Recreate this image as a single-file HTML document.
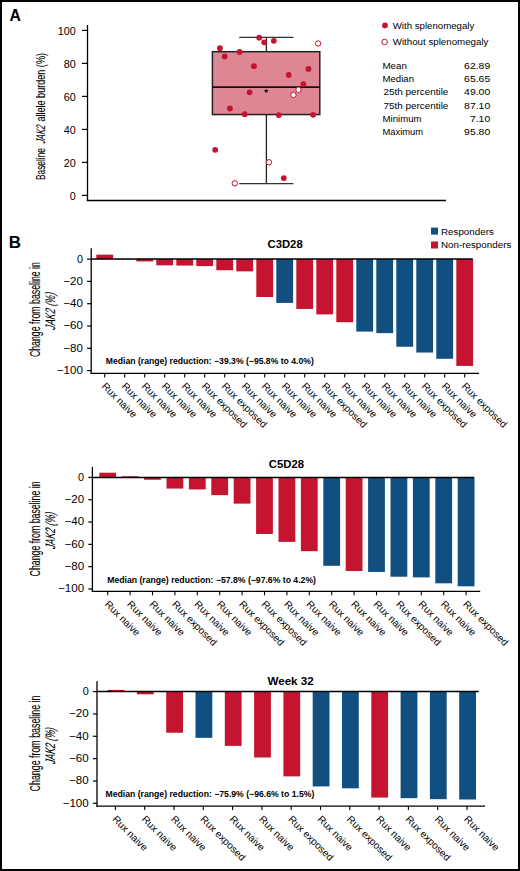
<!DOCTYPE html>
<html><head><meta charset="utf-8"><style>html,body{margin:0;padding:0;background:#fff;width:520px;height:871px;overflow:hidden}</style></head>
<body>
<svg width="520" height="871" viewBox="0 0 520 871" style="display:block;font-family:'Liberation Sans', sans-serif">
<rect x="0" y="0" width="520" height="871" fill="#fff"/>
<rect x="1" y="1" width="518" height="869" fill="none" stroke="#000" stroke-width="2"/>
<text x="9.40" y="20.80" font-size="15.8" font-weight="bold">A</text>
<text x="8.80" y="248.10" font-size="15.8" font-weight="bold" textLength="12.2" lengthAdjust="spacingAndGlyphs">B</text>
<line x1="87.5" y1="25" x2="87.5" y2="201.1" stroke="#000" stroke-width="1.3"/>
<line x1="86.85" y1="200.4" x2="446" y2="200.4" stroke="#000" stroke-width="1.5"/>
<line x1="82" y1="195.40" x2="87.5" y2="195.40" stroke="#000" stroke-width="1.2"/>
<text x="75.80" y="200.10" font-size="10.8" text-anchor="end">0</text>
<line x1="82" y1="162.40" x2="87.5" y2="162.40" stroke="#000" stroke-width="1.2"/>
<text x="75.80" y="167.10" font-size="10.8" text-anchor="end">20</text>
<line x1="82" y1="129.40" x2="87.5" y2="129.40" stroke="#000" stroke-width="1.2"/>
<text x="75.80" y="134.10" font-size="10.8" text-anchor="end">40</text>
<line x1="82" y1="96.40" x2="87.5" y2="96.40" stroke="#000" stroke-width="1.2"/>
<text x="75.80" y="101.10" font-size="10.8" text-anchor="end">60</text>
<line x1="82" y1="63.40" x2="87.5" y2="63.40" stroke="#000" stroke-width="1.2"/>
<text x="75.80" y="68.10" font-size="10.8" text-anchor="end">80</text>
<line x1="82" y1="30.40" x2="87.5" y2="30.40" stroke="#000" stroke-width="1.2"/>
<text x="75.80" y="35.10" font-size="10.8" text-anchor="end">100</text>
<g transform="translate(45.30,179.90) rotate(-90) scale(0.6632,1)" stroke="#000" stroke-width="0.1">
<text x="0.00" y="0" font-size="12.5" style="white-space:pre">Baseline</text>
</g>
<g transform="translate(45.30,144.00) rotate(-90) scale(0.6125,1)" stroke="#000" stroke-width="0.1">
<text transform="translate(0.00,0) skewX(-22)" x="0" y="0" font-size="12.5" style="white-space:pre">JAK2</text>
</g>
<g transform="translate(45.30,121.60) rotate(-90) scale(0.7270,1)" stroke="#000" stroke-width="0.1">
<text x="0.00" y="0" font-size="12.5" style="white-space:pre">allele burden (%)</text>
</g>
<rect x="212.4" y="51.69" width="107.4" height="62.86" fill="#DE8794" stroke="#222" stroke-width="1.5"/>
<line x1="212.4" y1="87.08" x2="319.8" y2="87.08" stroke="#111" stroke-width="1.6"/>
<line x1="266.4" y1="37.33" x2="266.4" y2="51.69" stroke="#222" stroke-width="1.3"/>
<line x1="266.4" y1="114.55" x2="266.4" y2="183.69" stroke="#222" stroke-width="1.3"/>
<line x1="239.2" y1="37.33" x2="293.5" y2="37.33" stroke="#333" stroke-width="1.3"/>
<line x1="239.2" y1="183.69" x2="293.5" y2="183.69" stroke="#333" stroke-width="1.3"/>
<polygon points="266.20,88.40 266.82,90.05 268.58,90.13 267.20,91.22 267.67,92.92 266.20,91.95 264.73,92.92 265.20,91.22 263.82,90.13 265.58,90.05" fill="#000"/>
<circle cx="219.9" cy="48.2" r="2.9" fill="#C4142F"/>
<circle cx="224.7" cy="56.5" r="2.9" fill="#C4142F"/>
<circle cx="239.6" cy="52" r="2.9" fill="#C4142F"/>
<circle cx="259.2" cy="37.7" r="2.9" fill="#C4142F"/>
<circle cx="264.2" cy="42.3" r="2.9" fill="#C4142F"/>
<circle cx="273.8" cy="40.8" r="2.9" fill="#C4142F"/>
<circle cx="253.9" cy="66.2" r="2.9" fill="#C4142F"/>
<circle cx="249.6" cy="92.3" r="2.9" fill="#C4142F"/>
<circle cx="229.9" cy="108.5" r="2.9" fill="#C4142F"/>
<circle cx="244.7" cy="114.2" r="2.9" fill="#C4142F"/>
<circle cx="278.8" cy="115.1" r="2.9" fill="#C4142F"/>
<circle cx="308.5" cy="68.9" r="2.9" fill="#C4142F"/>
<circle cx="288.7" cy="75" r="2.9" fill="#C4142F"/>
<circle cx="303.4" cy="84.2" r="2.9" fill="#C4142F"/>
<circle cx="313.1" cy="114.8" r="2.9" fill="#C4142F"/>
<circle cx="215.2" cy="149.8" r="2.9" fill="#C4142F"/>
<circle cx="283.8" cy="178.1" r="2.9" fill="#C4142F"/>
<circle cx="318.1" cy="43.5" r="2.7" fill="#fff" stroke="#C4142F" stroke-width="1"/>
<circle cx="298.5" cy="89.8" r="2.7" fill="#fff" stroke="#C4142F" stroke-width="1"/>
<circle cx="293.5" cy="95" r="2.7" fill="#fff" stroke="#C4142F" stroke-width="1"/>
<circle cx="269" cy="162.3" r="2.7" fill="#fff" stroke="#C4142F" stroke-width="1"/>
<circle cx="234.8" cy="183.3" r="2.7" fill="#fff" stroke="#C4142F" stroke-width="1"/>
<circle cx="385" cy="25.4" r="2.9" fill="#C4142F"/>
<circle cx="384.6" cy="42.0" r="2.8" fill="#fff" stroke="#C4142F" stroke-width="1"/>
<text x="392.70" y="28.90" font-size="9.7" textLength="81.65" lengthAdjust="spacingAndGlyphs">With splenomegaly</text>
<text x="392.70" y="44.70" font-size="9.7" textLength="95.8" lengthAdjust="spacingAndGlyphs">Without splenomegaly</text>
<text x="382.50" y="68.80" font-size="9.7" textLength="24.37" lengthAdjust="spacingAndGlyphs">Mean</text>
<text x="490.20" y="68.80" font-size="9.7" text-anchor="end" textLength="26.09" lengthAdjust="spacingAndGlyphs">62.89</text>
<text x="382.50" y="82.05" font-size="9.7" textLength="31.51" lengthAdjust="spacingAndGlyphs">Median</text>
<text x="490.20" y="82.05" font-size="9.7" text-anchor="end" textLength="26.09" lengthAdjust="spacingAndGlyphs">65.65</text>
<text x="383.50" y="95.30" font-size="9.7" textLength="64.84" lengthAdjust="spacingAndGlyphs">25th percentile</text>
<text x="490.20" y="95.30" font-size="9.7" text-anchor="end" textLength="26.09" lengthAdjust="spacingAndGlyphs">49.00</text>
<text x="383.50" y="108.55" font-size="9.7" textLength="64.84" lengthAdjust="spacingAndGlyphs">75th percentile</text>
<text x="490.20" y="108.55" font-size="9.7" text-anchor="end" textLength="26.09" lengthAdjust="spacingAndGlyphs">87.10</text>
<text x="382.50" y="121.80" font-size="9.7" textLength="39.03" lengthAdjust="spacingAndGlyphs">Minimum</text>
<text x="490.20" y="121.80" font-size="9.7" text-anchor="end" textLength="20.3" lengthAdjust="spacingAndGlyphs">7.10</text>
<text x="382.50" y="135.05" font-size="9.7" textLength="40.5" lengthAdjust="spacingAndGlyphs">Maximum</text>
<text x="490.20" y="135.05" font-size="9.7" text-anchor="end" textLength="26.09" lengthAdjust="spacingAndGlyphs">95.80</text>
<rect x="431" y="227.6" width="7" height="7" fill="#114F80"/>
<rect x="431" y="241.5" width="7" height="7" fill="#C4142F"/>
<text x="441.00" y="235.20" font-size="9.7" textLength="52.8" lengthAdjust="spacingAndGlyphs">Responders</text>
<text x="441.00" y="247.70" font-size="9.7" textLength="70.3" lengthAdjust="spacingAndGlyphs">Non-responders</text>
<text x="267.50" y="247.90" font-size="11.3" font-weight="bold" textLength="35.2" lengthAdjust="spacingAndGlyphs">C3D28</text>
<rect x="96.30" y="254.64" width="16.8" height="4.46" fill="#C4142F"/>
<rect x="116.30" y="259.10" width="16.8" height="0.33" fill="#C4142F"/>
<rect x="136.30" y="259.10" width="16.8" height="2.34" fill="#C4142F"/>
<rect x="156.30" y="259.10" width="16.8" height="6.24" fill="#C4142F"/>
<rect x="176.30" y="259.10" width="16.8" height="6.47" fill="#C4142F"/>
<rect x="196.30" y="259.10" width="16.8" height="7.02" fill="#C4142F"/>
<rect x="216.30" y="259.10" width="16.8" height="11.15" fill="#C4142F"/>
<rect x="236.30" y="259.10" width="16.8" height="12.26" fill="#C4142F"/>
<rect x="256.30" y="259.10" width="16.8" height="37.91" fill="#C4142F"/>
<rect x="276.30" y="259.10" width="16.8" height="43.82" fill="#114F80"/>
<rect x="296.30" y="259.10" width="16.8" height="49.84" fill="#C4142F"/>
<rect x="316.30" y="259.10" width="16.8" height="55.30" fill="#C4142F"/>
<rect x="336.30" y="259.10" width="16.8" height="63.11" fill="#C4142F"/>
<rect x="356.30" y="259.10" width="16.8" height="72.48" fill="#114F80"/>
<rect x="376.30" y="259.10" width="16.8" height="74.04" fill="#114F80"/>
<rect x="396.30" y="259.10" width="16.8" height="87.64" fill="#114F80"/>
<rect x="416.30" y="259.10" width="16.8" height="93.44" fill="#114F80"/>
<rect x="436.30" y="259.10" width="16.8" height="99.68" fill="#114F80"/>
<rect x="456.30" y="259.10" width="16.8" height="106.82" fill="#C4142F"/>
<line x1="91.2" y1="248.3" x2="91.2" y2="374.04999999999995" stroke="#000" stroke-width="1.3"/>
<line x1="90.55" y1="373.4" x2="479" y2="373.4" stroke="#000" stroke-width="1.3"/>
<line x1="91.2" y1="259.1" x2="472.8" y2="259.1" stroke="#000" stroke-width="1.5"/>
<line x1="87.10000000000001" y1="259.10" x2="91.2" y2="259.10" stroke="#000" stroke-width="1.2"/>
<text x="82.90" y="262.50" font-size="10.8" text-anchor="end">0</text>
<line x1="87.10000000000001" y1="281.40" x2="91.2" y2="281.40" stroke="#000" stroke-width="1.2"/>
<text x="82.90" y="284.80" font-size="10.8" text-anchor="end" textLength="19.6" lengthAdjust="spacingAndGlyphs">−20</text>
<line x1="87.10000000000001" y1="303.70" x2="91.2" y2="303.70" stroke="#000" stroke-width="1.2"/>
<text x="82.90" y="307.10" font-size="10.8" text-anchor="end" textLength="19.6" lengthAdjust="spacingAndGlyphs">−40</text>
<line x1="87.10000000000001" y1="326.00" x2="91.2" y2="326.00" stroke="#000" stroke-width="1.2"/>
<text x="82.90" y="329.40" font-size="10.8" text-anchor="end" textLength="19.6" lengthAdjust="spacingAndGlyphs">−60</text>
<line x1="87.10000000000001" y1="348.30" x2="91.2" y2="348.30" stroke="#000" stroke-width="1.2"/>
<text x="82.90" y="351.70" font-size="10.8" text-anchor="end" textLength="19.6" lengthAdjust="spacingAndGlyphs">−80</text>
<line x1="87.10000000000001" y1="370.60" x2="91.2" y2="370.60" stroke="#000" stroke-width="1.2"/>
<text x="82.90" y="374.00" font-size="10.8" text-anchor="end" textLength="26.03" lengthAdjust="spacingAndGlyphs">−100</text>
<line x1="104.70" y1="373.4" x2="104.70" y2="377.4" stroke="#000" stroke-width="1.1"/>
<text transform="translate(101.20,386.80) rotate(45)" font-size="10.1">Rux naive</text>
<line x1="124.70" y1="373.4" x2="124.70" y2="377.4" stroke="#000" stroke-width="1.1"/>
<text transform="translate(121.20,386.80) rotate(45)" font-size="10.1">Rux naive</text>
<line x1="144.70" y1="373.4" x2="144.70" y2="377.4" stroke="#000" stroke-width="1.1"/>
<text transform="translate(141.20,386.80) rotate(45)" font-size="10.1">Rux naive</text>
<line x1="164.70" y1="373.4" x2="164.70" y2="377.4" stroke="#000" stroke-width="1.1"/>
<text transform="translate(161.20,386.80) rotate(45)" font-size="10.1">Rux naive</text>
<line x1="184.70" y1="373.4" x2="184.70" y2="377.4" stroke="#000" stroke-width="1.1"/>
<text transform="translate(181.20,386.80) rotate(45)" font-size="10.1">Rux naive</text>
<line x1="204.70" y1="373.4" x2="204.70" y2="377.4" stroke="#000" stroke-width="1.1"/>
<text transform="translate(201.20,386.80) rotate(45)" font-size="10.1">Rux exposed</text>
<line x1="224.70" y1="373.4" x2="224.70" y2="377.4" stroke="#000" stroke-width="1.1"/>
<text transform="translate(221.20,386.80) rotate(45)" font-size="10.1">Rux exposed</text>
<line x1="244.70" y1="373.4" x2="244.70" y2="377.4" stroke="#000" stroke-width="1.1"/>
<text transform="translate(241.20,386.80) rotate(45)" font-size="10.1">Rux naive</text>
<line x1="264.70" y1="373.4" x2="264.70" y2="377.4" stroke="#000" stroke-width="1.1"/>
<text transform="translate(261.20,386.80) rotate(45)" font-size="10.1">Rux naive</text>
<line x1="284.70" y1="373.4" x2="284.70" y2="377.4" stroke="#000" stroke-width="1.1"/>
<text transform="translate(281.20,386.80) rotate(45)" font-size="10.1">Rux naive</text>
<line x1="304.70" y1="373.4" x2="304.70" y2="377.4" stroke="#000" stroke-width="1.1"/>
<text transform="translate(301.20,386.80) rotate(45)" font-size="10.1">Rux naive</text>
<line x1="324.70" y1="373.4" x2="324.70" y2="377.4" stroke="#000" stroke-width="1.1"/>
<text transform="translate(321.20,386.80) rotate(45)" font-size="10.1">Rux exposed</text>
<line x1="344.70" y1="373.4" x2="344.70" y2="377.4" stroke="#000" stroke-width="1.1"/>
<text transform="translate(341.20,386.80) rotate(45)" font-size="10.1">Rux naive</text>
<line x1="364.70" y1="373.4" x2="364.70" y2="377.4" stroke="#000" stroke-width="1.1"/>
<text transform="translate(361.20,386.80) rotate(45)" font-size="10.1">Rux naive</text>
<line x1="384.70" y1="373.4" x2="384.70" y2="377.4" stroke="#000" stroke-width="1.1"/>
<text transform="translate(381.20,386.80) rotate(45)" font-size="10.1">Rux naive</text>
<line x1="404.70" y1="373.4" x2="404.70" y2="377.4" stroke="#000" stroke-width="1.1"/>
<text transform="translate(401.20,386.80) rotate(45)" font-size="10.1">Rux naive</text>
<line x1="424.70" y1="373.4" x2="424.70" y2="377.4" stroke="#000" stroke-width="1.1"/>
<text transform="translate(421.20,386.80) rotate(45)" font-size="10.1">Rux exposed</text>
<line x1="444.70" y1="373.4" x2="444.70" y2="377.4" stroke="#000" stroke-width="1.1"/>
<text transform="translate(441.20,386.80) rotate(45)" font-size="10.1">Rux naive</text>
<line x1="464.70" y1="373.4" x2="464.70" y2="377.4" stroke="#000" stroke-width="1.1"/>
<text transform="translate(461.20,386.80) rotate(45)" font-size="10.1">Rux exposed</text>
<text x="105.80" y="364.20" font-size="8.6" font-weight="bold" textLength="208" lengthAdjust="spacingAndGlyphs">Median (range) reduction: −39.3% (−95.8% to 4.0%)</text>
<g transform="translate(39.70,357.10) rotate(-90) scale(0.6364,1)" stroke="#000" stroke-width="0.1">
<text x="0.00" y="0" font-size="13.8" style="white-space:pre">Change from baseline in</text>
</g>
<g transform="translate(55.00,330.50) rotate(-90) scale(0.6434,1)" stroke="#000" stroke-width="0.1">
<text transform="translate(0.00,0) skewX(-22)" x="0" y="0" font-size="13.8" style="white-space:pre">JAK2 (%)</text>
</g>
<text x="268.80" y="467.80" font-size="11.3" font-weight="bold" textLength="35.2" lengthAdjust="spacingAndGlyphs">C5D28</text>
<rect x="99.30" y="472.71" width="16.8" height="4.69" fill="#C4142F"/>
<rect x="121.70" y="476.28" width="16.8" height="1.12" fill="#C4142F"/>
<rect x="144.10" y="477.40" width="16.8" height="2.34" fill="#C4142F"/>
<rect x="166.50" y="477.40" width="16.8" height="11.16" fill="#C4142F"/>
<rect x="188.90" y="477.40" width="16.8" height="12.05" fill="#C4142F"/>
<rect x="211.30" y="477.40" width="16.8" height="17.74" fill="#C4142F"/>
<rect x="233.70" y="477.40" width="16.8" height="26.23" fill="#C4142F"/>
<rect x="256.10" y="477.40" width="16.8" height="56.58" fill="#C4142F"/>
<rect x="278.50" y="477.40" width="16.8" height="64.50" fill="#C4142F"/>
<rect x="300.90" y="477.40" width="16.8" height="73.77" fill="#C4142F"/>
<rect x="323.30" y="477.40" width="16.8" height="88.39" fill="#114F80"/>
<rect x="345.70" y="477.40" width="16.8" height="93.63" fill="#C4142F"/>
<rect x="368.10" y="477.40" width="16.8" height="94.53" fill="#114F80"/>
<rect x="390.50" y="477.40" width="16.8" height="99.32" fill="#114F80"/>
<rect x="412.90" y="477.40" width="16.8" height="99.99" fill="#114F80"/>
<rect x="435.30" y="477.40" width="16.8" height="105.91" fill="#114F80"/>
<rect x="457.70" y="477.40" width="16.8" height="108.92" fill="#114F80"/>
<line x1="92.4" y1="466.9" x2="92.4" y2="591.9499999999999" stroke="#000" stroke-width="1.3"/>
<line x1="91.75" y1="591.3" x2="480.2" y2="591.3" stroke="#000" stroke-width="1.3"/>
<line x1="92.4" y1="477.4" x2="474.1" y2="477.4" stroke="#000" stroke-width="1.5"/>
<line x1="88.30000000000001" y1="477.40" x2="92.4" y2="477.40" stroke="#000" stroke-width="1.2"/>
<text x="84.10" y="480.80" font-size="10.8" text-anchor="end">0</text>
<line x1="88.30000000000001" y1="499.72" x2="92.4" y2="499.72" stroke="#000" stroke-width="1.2"/>
<text x="84.10" y="503.12" font-size="10.8" text-anchor="end" textLength="19.6" lengthAdjust="spacingAndGlyphs">−20</text>
<line x1="88.30000000000001" y1="522.04" x2="92.4" y2="522.04" stroke="#000" stroke-width="1.2"/>
<text x="84.10" y="525.44" font-size="10.8" text-anchor="end" textLength="19.6" lengthAdjust="spacingAndGlyphs">−40</text>
<line x1="88.30000000000001" y1="544.36" x2="92.4" y2="544.36" stroke="#000" stroke-width="1.2"/>
<text x="84.10" y="547.76" font-size="10.8" text-anchor="end" textLength="19.6" lengthAdjust="spacingAndGlyphs">−60</text>
<line x1="88.30000000000001" y1="566.68" x2="92.4" y2="566.68" stroke="#000" stroke-width="1.2"/>
<text x="84.10" y="570.08" font-size="10.8" text-anchor="end" textLength="19.6" lengthAdjust="spacingAndGlyphs">−80</text>
<line x1="88.30000000000001" y1="589.00" x2="92.4" y2="589.00" stroke="#000" stroke-width="1.2"/>
<text x="84.10" y="592.40" font-size="10.8" text-anchor="end" textLength="26.03" lengthAdjust="spacingAndGlyphs">−100</text>
<line x1="107.70" y1="591.3" x2="107.70" y2="595.3" stroke="#000" stroke-width="1.1"/>
<text transform="translate(104.20,604.80) rotate(45)" font-size="10.1">Rux naive</text>
<line x1="130.10" y1="591.3" x2="130.10" y2="595.3" stroke="#000" stroke-width="1.1"/>
<text transform="translate(126.60,604.80) rotate(45)" font-size="10.1">Rux naive</text>
<line x1="152.50" y1="591.3" x2="152.50" y2="595.3" stroke="#000" stroke-width="1.1"/>
<text transform="translate(149.00,604.80) rotate(45)" font-size="10.1">Rux naive</text>
<line x1="174.90" y1="591.3" x2="174.90" y2="595.3" stroke="#000" stroke-width="1.1"/>
<text transform="translate(171.40,604.80) rotate(45)" font-size="10.1">Rux exposed</text>
<line x1="197.30" y1="591.3" x2="197.30" y2="595.3" stroke="#000" stroke-width="1.1"/>
<text transform="translate(193.80,604.80) rotate(45)" font-size="10.1">Rux naive</text>
<line x1="219.70" y1="591.3" x2="219.70" y2="595.3" stroke="#000" stroke-width="1.1"/>
<text transform="translate(216.20,604.80) rotate(45)" font-size="10.1">Rux naive</text>
<line x1="242.10" y1="591.3" x2="242.10" y2="595.3" stroke="#000" stroke-width="1.1"/>
<text transform="translate(238.60,604.80) rotate(45)" font-size="10.1">Rux exposed</text>
<line x1="264.50" y1="591.3" x2="264.50" y2="595.3" stroke="#000" stroke-width="1.1"/>
<text transform="translate(261.00,604.80) rotate(45)" font-size="10.1">Rux exposed</text>
<line x1="286.90" y1="591.3" x2="286.90" y2="595.3" stroke="#000" stroke-width="1.1"/>
<text transform="translate(283.40,604.80) rotate(45)" font-size="10.1">Rux naive</text>
<line x1="309.30" y1="591.3" x2="309.30" y2="595.3" stroke="#000" stroke-width="1.1"/>
<text transform="translate(305.80,604.80) rotate(45)" font-size="10.1">Rux naive</text>
<line x1="331.70" y1="591.3" x2="331.70" y2="595.3" stroke="#000" stroke-width="1.1"/>
<text transform="translate(328.20,604.80) rotate(45)" font-size="10.1">Rux naive</text>
<line x1="354.10" y1="591.3" x2="354.10" y2="595.3" stroke="#000" stroke-width="1.1"/>
<text transform="translate(350.60,604.80) rotate(45)" font-size="10.1">Rux naive</text>
<line x1="376.50" y1="591.3" x2="376.50" y2="595.3" stroke="#000" stroke-width="1.1"/>
<text transform="translate(373.00,604.80) rotate(45)" font-size="10.1">Rux naive</text>
<line x1="398.90" y1="591.3" x2="398.90" y2="595.3" stroke="#000" stroke-width="1.1"/>
<text transform="translate(395.40,604.80) rotate(45)" font-size="10.1">Rux exposed</text>
<line x1="421.30" y1="591.3" x2="421.30" y2="595.3" stroke="#000" stroke-width="1.1"/>
<text transform="translate(417.80,604.80) rotate(45)" font-size="10.1">Rux naive</text>
<line x1="443.70" y1="591.3" x2="443.70" y2="595.3" stroke="#000" stroke-width="1.1"/>
<text transform="translate(440.20,604.80) rotate(45)" font-size="10.1">Rux naive</text>
<line x1="466.10" y1="591.3" x2="466.10" y2="595.3" stroke="#000" stroke-width="1.1"/>
<text transform="translate(462.60,604.80) rotate(45)" font-size="10.1">Rux exposed</text>
<text x="107.20" y="582.70" font-size="8.6" font-weight="bold" textLength="208.8" lengthAdjust="spacingAndGlyphs">Median (range) reduction: −57.8% (−97.6% to 4.2%)</text>
<g transform="translate(39.70,576.40) rotate(-90) scale(0.6351,1)" stroke="#000" stroke-width="0.1">
<text x="0.00" y="0" font-size="13.8" style="white-space:pre">Change from baseline in</text>
</g>
<g transform="translate(55.00,549.80) rotate(-90) scale(0.6349,1)" stroke="#000" stroke-width="0.1">
<text transform="translate(0.00,0) skewX(-22)" x="0" y="0" font-size="13.8" style="white-space:pre">JAK2 (%)</text>
</g>
<text x="267.40" y="684.60" font-size="11.3" font-weight="bold" textLength="46.4" lengthAdjust="spacingAndGlyphs">Week 32</text>
<rect x="107.60" y="689.92" width="16.8" height="1.68" fill="#C4142F"/>
<rect x="136.90" y="691.60" width="16.8" height="2.68" fill="#C4142F"/>
<rect x="166.20" y="691.60" width="16.8" height="41.11" fill="#C4142F"/>
<rect x="195.50" y="691.60" width="16.8" height="46.24" fill="#114F80"/>
<rect x="224.80" y="691.60" width="16.8" height="54.29" fill="#C4142F"/>
<rect x="254.10" y="691.60" width="16.8" height="65.90" fill="#C4142F"/>
<rect x="283.40" y="691.60" width="16.8" height="84.78" fill="#C4142F"/>
<rect x="312.70" y="691.60" width="16.8" height="94.83" fill="#114F80"/>
<rect x="342.00" y="691.60" width="16.8" height="96.73" fill="#114F80"/>
<rect x="371.30" y="691.60" width="16.8" height="106.00" fill="#C4142F"/>
<rect x="400.60" y="691.60" width="16.8" height="106.56" fill="#114F80"/>
<rect x="429.90" y="691.60" width="16.8" height="107.57" fill="#114F80"/>
<rect x="459.20" y="691.60" width="16.8" height="107.90" fill="#114F80"/>
<line x1="97.0" y1="681.2" x2="97.0" y2="806.75" stroke="#000" stroke-width="1.3"/>
<line x1="96.35" y1="806.1" x2="485" y2="806.1" stroke="#000" stroke-width="1.3"/>
<line x1="97.0" y1="691.6" x2="478.8" y2="691.6" stroke="#000" stroke-width="1.5"/>
<line x1="92.9" y1="691.60" x2="97.0" y2="691.60" stroke="#000" stroke-width="1.2"/>
<text x="88.70" y="695.00" font-size="10.8" text-anchor="end">0</text>
<line x1="92.9" y1="713.94" x2="97.0" y2="713.94" stroke="#000" stroke-width="1.2"/>
<text x="88.70" y="717.34" font-size="10.8" text-anchor="end" textLength="19.6" lengthAdjust="spacingAndGlyphs">−20</text>
<line x1="92.9" y1="736.28" x2="97.0" y2="736.28" stroke="#000" stroke-width="1.2"/>
<text x="88.70" y="739.68" font-size="10.8" text-anchor="end" textLength="19.6" lengthAdjust="spacingAndGlyphs">−40</text>
<line x1="92.9" y1="758.62" x2="97.0" y2="758.62" stroke="#000" stroke-width="1.2"/>
<text x="88.70" y="762.02" font-size="10.8" text-anchor="end" textLength="19.6" lengthAdjust="spacingAndGlyphs">−60</text>
<line x1="92.9" y1="780.96" x2="97.0" y2="780.96" stroke="#000" stroke-width="1.2"/>
<text x="88.70" y="784.36" font-size="10.8" text-anchor="end" textLength="19.6" lengthAdjust="spacingAndGlyphs">−80</text>
<line x1="92.9" y1="803.30" x2="97.0" y2="803.30" stroke="#000" stroke-width="1.2"/>
<text x="88.70" y="806.70" font-size="10.8" text-anchor="end" textLength="26.03" lengthAdjust="spacingAndGlyphs">−100</text>
<line x1="115.40" y1="806.1" x2="115.40" y2="810.1" stroke="#000" stroke-width="1.1"/>
<text transform="translate(111.90,819.80) rotate(45)" font-size="10.1">Rux naive</text>
<line x1="144.70" y1="806.1" x2="144.70" y2="810.1" stroke="#000" stroke-width="1.1"/>
<text transform="translate(141.20,819.80) rotate(45)" font-size="10.1">Rux naive</text>
<line x1="174.00" y1="806.1" x2="174.00" y2="810.1" stroke="#000" stroke-width="1.1"/>
<text transform="translate(170.50,819.80) rotate(45)" font-size="10.1">Rux naive</text>
<line x1="203.30" y1="806.1" x2="203.30" y2="810.1" stroke="#000" stroke-width="1.1"/>
<text transform="translate(199.80,819.80) rotate(45)" font-size="10.1">Rux exposed</text>
<line x1="232.60" y1="806.1" x2="232.60" y2="810.1" stroke="#000" stroke-width="1.1"/>
<text transform="translate(229.10,819.80) rotate(45)" font-size="10.1">Rux naive</text>
<line x1="261.90" y1="806.1" x2="261.90" y2="810.1" stroke="#000" stroke-width="1.1"/>
<text transform="translate(258.40,819.80) rotate(45)" font-size="10.1">Rux naive</text>
<line x1="291.20" y1="806.1" x2="291.20" y2="810.1" stroke="#000" stroke-width="1.1"/>
<text transform="translate(287.70,819.80) rotate(45)" font-size="10.1">Rux exposed</text>
<line x1="320.50" y1="806.1" x2="320.50" y2="810.1" stroke="#000" stroke-width="1.1"/>
<text transform="translate(317.00,819.80) rotate(45)" font-size="10.1">Rux naive</text>
<line x1="349.80" y1="806.1" x2="349.80" y2="810.1" stroke="#000" stroke-width="1.1"/>
<text transform="translate(346.30,819.80) rotate(45)" font-size="10.1">Rux exposed</text>
<line x1="379.10" y1="806.1" x2="379.10" y2="810.1" stroke="#000" stroke-width="1.1"/>
<text transform="translate(375.60,819.80) rotate(45)" font-size="10.1">Rux naive</text>
<line x1="408.40" y1="806.1" x2="408.40" y2="810.1" stroke="#000" stroke-width="1.1"/>
<text transform="translate(404.90,819.80) rotate(45)" font-size="10.1">Rux exposed</text>
<line x1="437.70" y1="806.1" x2="437.70" y2="810.1" stroke="#000" stroke-width="1.1"/>
<text transform="translate(434.20,819.80) rotate(45)" font-size="10.1">Rux naive</text>
<line x1="467.00" y1="806.1" x2="467.00" y2="810.1" stroke="#000" stroke-width="1.1"/>
<text transform="translate(463.50,819.80) rotate(45)" font-size="10.1">Rux naive</text>
<text x="105.50" y="797.00" font-size="8.6" font-weight="bold" textLength="208.8" lengthAdjust="spacingAndGlyphs">Median (range) reduction: −75.9% (−96.6% to 1.5%)</text>
<g transform="translate(39.70,791.40) rotate(-90) scale(0.6418,1)" stroke="#000" stroke-width="0.1">
<text x="0.00" y="0" font-size="13.8" style="white-space:pre">Change from baseline in</text>
</g>
<g transform="translate(55.00,764.80) rotate(-90) scale(0.6280,1)" stroke="#000" stroke-width="0.1">
<text transform="translate(0.00,0) skewX(-22)" x="0" y="0" font-size="13.8" style="white-space:pre">JAK2 (%)</text>
</g>
</svg>
</body></html>
